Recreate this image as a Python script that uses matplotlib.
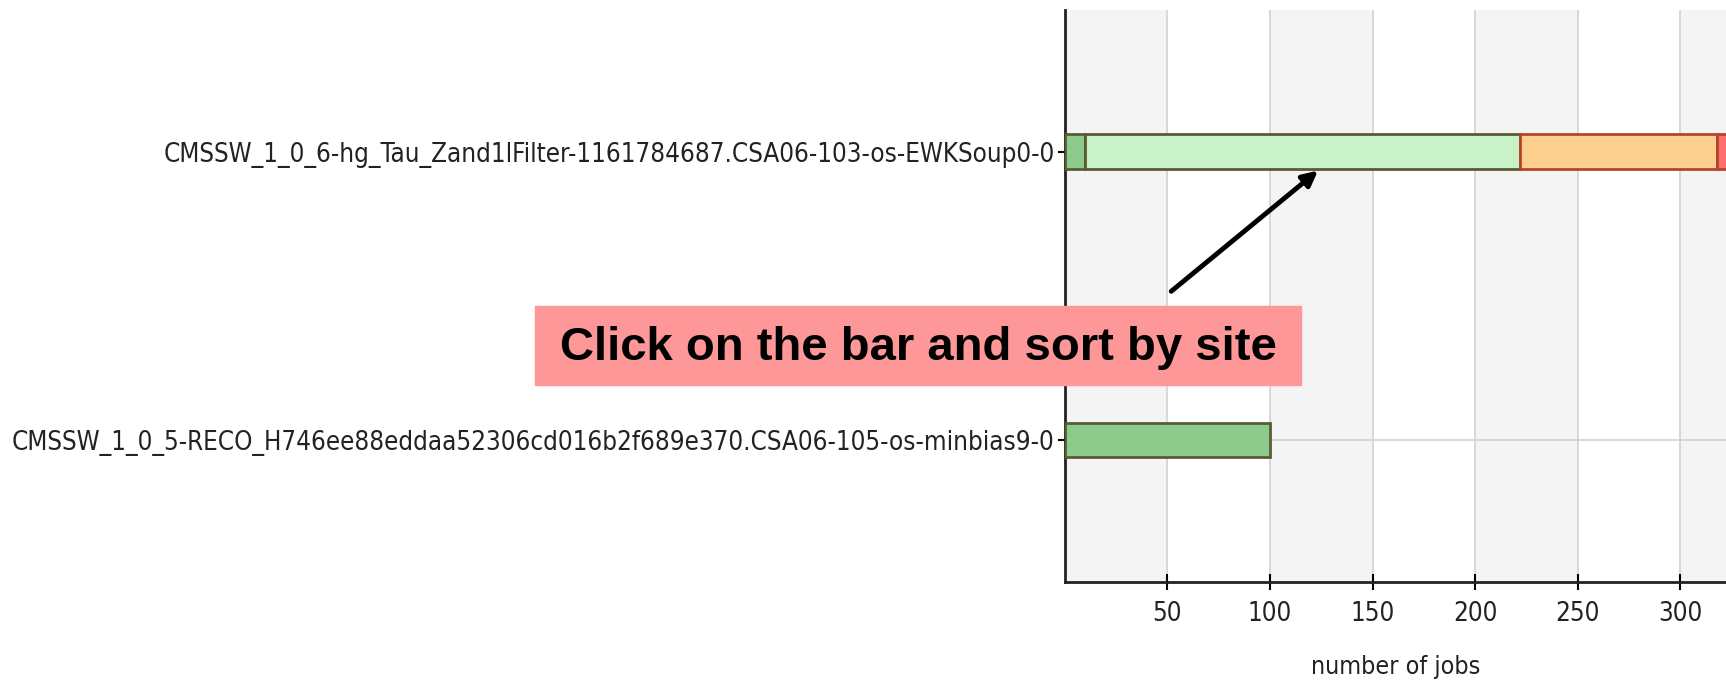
import numpy as np
import matplotlib
matplotlib.use('Agg')
import matplotlib.pyplot as plt
from matplotlib.patches import Rectangle

# 数据: 两个数据集, 第一个按状态分段堆叠
datasets = ["CMSSW_1_0_5-RECO_H746ee88eddaa52306cd016b2f689e370.CSA06-105-os-minbias9-0",
            "CMSSW_1_0_6-hg_Tau_Zand1lFilter-1161784687.CSA06-103-os-EWKSoup0-0"]
done = [100, 10]
running = [0, 212]
pending = [0, 96]
failed = [0, 8]
xticks = [50, 100, 150, 200, 250, 300]

seg_colors = ['#8dcb8d', '#c9f2c9', '#fdd08f', '#ff7070']
seg_edges = ['#5b5b32', '#5b5b32', '#b5452a', '#b5452a']

fig = plt.figure(figsize=(17.26, 6.81), dpi=100)
ax = fig.add_axes([0.6168, 0.1454, 0.3832, 0.840])

y = np.arange(len(datasets))
left = np.zeros(len(datasets))
for vals, c, ec in zip([done, running, pending, failed], seg_colors, seg_edges):
    vals = np.array(vals, dtype=float)
    keep = vals > 0
    ax.barh(y[keep], vals[keep], left=left[keep], height=0.118, color=c, edgecolor=ec,
            linewidth=2, zorder=3)
    left += vals

ax.set_xlim(0, 322.2)
ax.set_ylim(-0.49, 1.49)

# 灰白相间的背景条
for i, x0 in enumerate(range(0, 350, 50)):
    if i % 2 == 0:
        ax.axvspan(x0, x0 + 50, color='#f4f4f4', zorder=0, lw=0)
for xt in xticks:
    ax.axvline(xt, color='#d2d2d2', lw=1.2, zorder=1)
for yy in y:
    ax.axhline(yy, color='#d2d2d2', lw=1.2, zorder=1)

fs = 18.6
ax.set_xticks(xticks)
ax.set_yticks(y)
ax.set_yticklabels(datasets, fontsize=fs, fontstretch='condensed', color='#222222')
ax.set_xticklabels([str(t) for t in xticks], fontsize=fs, fontstretch='condensed', color='#222222')
ax.tick_params(axis='x', direction='inout', length=12, width=1.5, pad=8)
ax.tick_params(axis='y', direction='out', length=5, width=1.5, pad=2)
ax.set_xlabel('number of jobs', fontsize=18, fontstretch='condensed', color='#222222', labelpad=20)

for s in ['top', 'right']:
    ax.spines[s].set_visible(False)
for s in ['left', 'bottom']:
    ax.spines[s].set_linewidth(2)
    ax.spines[s].set_color('#222222')

# 提示框和箭头
fig.patches.append(Rectangle((535 / 1726, 1 - 385 / 681), 766 / 1726, 79 / 681,
                             transform=fig.transFigure, color='#fe9898', zorder=5))
fig.text(918 / 1726, 1 - 348 / 681, 'Click on the bar and sort by site',
         fontsize=34, fontweight='bold', family='Liberation Sans',
         ha='center', va='center', zorder=6)
ax.annotate('', xy=(124.5, 0.94), xytext=(50.9, 0.51),
            arrowprops=dict(arrowstyle='-|>,head_length=0.9,head_width=0.45',
                            color='black', lw=3.5),
            annotation_clip=False, zorder=6)

plt.savefig('out.png', dpi=100)
